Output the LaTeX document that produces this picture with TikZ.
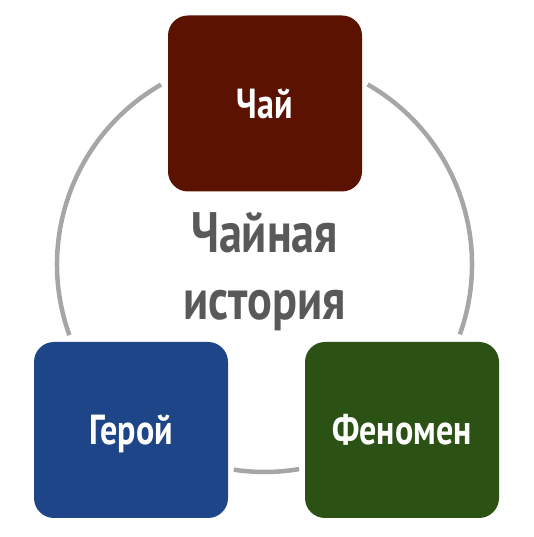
\documentclass[tikz,border=0pt]{standalone}
\usepackage{fontspec}
\newfontfamily\condfont{PT Sans}[FakeStretch=0.81]
\definecolor{arcgray}{HTML}{A6A6A6}
\definecolor{textgray}{HTML}{595959}
\definecolor{boxred}{HTML}{5B1200}
\definecolor{boxblue}{HTML}{1D4587}
\definecolor{boxgreen}{HTML}{2C5115}
\tikzset{
  cyclebox/.style={rectangle, rounded corners=20pt, minimum width=194pt, minimum height=176pt,
    inner sep=0pt, text=white, font=\condfont\bfseries\fontsize{42}{48}\selectfont,
    text height=29.5pt, text depth=0pt},
  cyclearc/.style={draw=arcgray, line width=4.5pt},
  centertext/.style={anchor=base, text=textgray, inner sep=0pt,
    font=\condfont\bfseries\fontsize{57}{67}\selectfont}
}
\begin{document}
\begin{tikzpicture}[x=1pt,y=1pt]
\useasboundingbox (0,0) rectangle (533,537);
\coordinate (c) at (264.5,272.5);
% arcs of the cycle
\draw[cyclearc] (c) ++(119.9:207.5) arc[start angle=119.9, end angle=199.9, radius=207.5];
\draw[cyclearc] (c) ++(60.2:207.5) arc[start angle=60.2, end angle=-19.7, radius=207.5];
\draw[cyclearc] (c) ++(261.5:207.5) arc[start angle=261.5, end angle=279.6, radius=207.5];
% boxes
\node[cyclebox, fill=boxred] (tea) at (265,433.5) {Чай};
\node[cyclebox, fill=boxblue] (hero) at (131,107) {Герой};
\node[cyclebox, fill=boxgreen] (phen) at (402,107) {Феномен};
% center text
\node[centertext] (t1) at (264.5,284) {Чайная};
\node[centertext] (t2) at (264.5,217) {история};
\end{tikzpicture}
\end{document}
